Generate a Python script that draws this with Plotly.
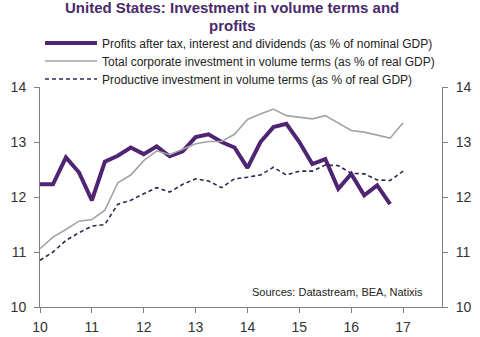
import plotly.graph_objects as go

# quarterly positions (year, 2-digit)
profits_x = [10.0 + 0.25 * i for i in range(28)]
profits = [12.23, 12.23, 12.72, 12.45, 11.94, 12.64, 12.75, 12.90, 12.78, 12.92,
           12.74, 12.83, 13.09, 13.14, 13.00, 12.90, 12.53, 13.00, 13.27, 13.33,
           13.00, 12.60, 12.69, 12.15, 12.42, 12.03, 12.21, 11.87]

total_x = [10.0 + 0.25 * i for i in range(29)]
total_inv = [11.06, 11.27, 11.41, 11.56, 11.59, 11.76, 12.26, 12.40, 12.66, 12.84,
             12.77, 12.87, 12.97, 13.01, 13.01, 13.14, 13.41, 13.51, 13.60, 13.48,
             13.45, 13.42, 13.48, 13.34, 13.21, 13.18, 13.12, 13.07, 13.35]

prod_x = [10.0 + 0.25 * i for i in range(29)]
prod_inv = [10.85, 11.00, 11.21, 11.35, 11.47, 11.50, 11.87, 11.94, 12.06, 12.17,
            12.09, 12.23, 12.33, 12.29, 12.17, 12.33, 12.36, 12.40, 12.54, 12.40,
            12.47, 12.47, 12.58, 12.57, 12.43, 12.42, 12.31, 12.30, 12.47]

x_ticks = [10, 11, 12, 13, 14, 15, 16, 17]
y_ticks = [10, 11, 12, 13, 14]

names = ["Profits after tax, interest and dividends (as % of nominal GDP)",
         "Total corporate investment in volume terms (as % of real GDP)",
         "Productive investment in volume terms (as % of real GDP)"]

title_lines = ["United States: Investment in volume terms and", "profits"]

PURPLE = "#4F2472"
GRAY = "#A3A3A3"
DARK = "#322550"
FONT = "Arial, Liberation Sans, sans-serif"

fig = go.Figure()
fig.add_trace(go.Scatter(x=profits_x, y=profits, mode="lines", name=names[0],
                         legend="legend", line=dict(color=PURPLE, width=4)))
fig.add_trace(go.Scatter(x=total_x, y=total_inv, mode="lines", name=names[1],
                         legend="legend2", line=dict(color=GRAY, width=1.6)))
fig.add_trace(go.Scatter(x=prod_x, y=prod_inv, mode="lines", name=names[2],
                         legend="legend3", line=dict(color=DARK, width=1.6, dash="4px,3px")))
# invisible trace for right axis
fig.add_trace(go.Scatter(x=[10], y=[10], yaxis="y2", mode="lines",
                         showlegend=False, hoverinfo="skip",
                         line=dict(color="rgba(0,0,0,0)")))

axis_common = dict(showgrid=False, zeroline=False, showline=True,
                   linecolor="#808080", linewidth=1,
                   ticks="outside", ticklen=5, tickcolor="#808080",
                   tickfont=dict(family=FONT, size=14, color="#333333"))

def leg(ypix):
    return dict(x=40 / 480, y=1 - ypix / 337, xref="container", yref="container",
                xanchor="left", yanchor="middle",
                bgcolor="rgba(0,0,0,0)", borderwidth=0,
                font=dict(family=FONT, size=12, color="#222222"),
                itemwidth=52)

def py(ypix):
    return 1 + (87 - ypix) / 220

fig.update_layout(
    width=480, height=337,
    margin=dict(l=40, r=38, t=87, b=30, autoexpand=False),
    paper_bgcolor="white", plot_bgcolor="white",
    font=dict(family=FONT, color="#333333"),
    xaxis=dict(range=[10, 17.75], tickvals=x_ticks, ticktext=[str(v) for v in x_ticks],
               ticklabelstandoff=2, **axis_common),
    yaxis=dict(range=[10, 14], tickvals=y_ticks, ticktext=[str(v) for v in y_ticks],
               ticklabelstandoff=5, **axis_common),
    yaxis2=dict(range=[10, 14], tickvals=y_ticks, ticktext=[str(v) for v in y_ticks],
                overlaying="y", side="right", ticklabelstandoff=5, **axis_common),
    legend=leg(43),
    legend2=leg(61),
    legend3=leg(79),
    showlegend=True,
    annotations=[
        dict(text="<b>" + title_lines[0] + "</b>",
             x=(232 - 40) / 402, y=py(8), xref="paper", yref="paper",
             xanchor="center", yanchor="middle", showarrow=False,
             font=dict(family=FONT, size=15, color="#4A2A6A")),
        dict(text="<b>" + title_lines[1] + "</b>",
             x=(232 - 40) / 402, y=py(25), xref="paper", yref="paper",
             xanchor="center", yanchor="middle", showarrow=False,
             font=dict(family=FONT, size=15, color="#4A2A6A")),
        dict(text="Sources: Datastream, BEA, Natixis", x=0.739, y=0.068,
             xref="paper", yref="paper", xanchor="center", yanchor="middle",
             showarrow=False, font=dict(family=FONT, size=11, color="#222222")),
    ],
)

fig.write_html("out.html")
